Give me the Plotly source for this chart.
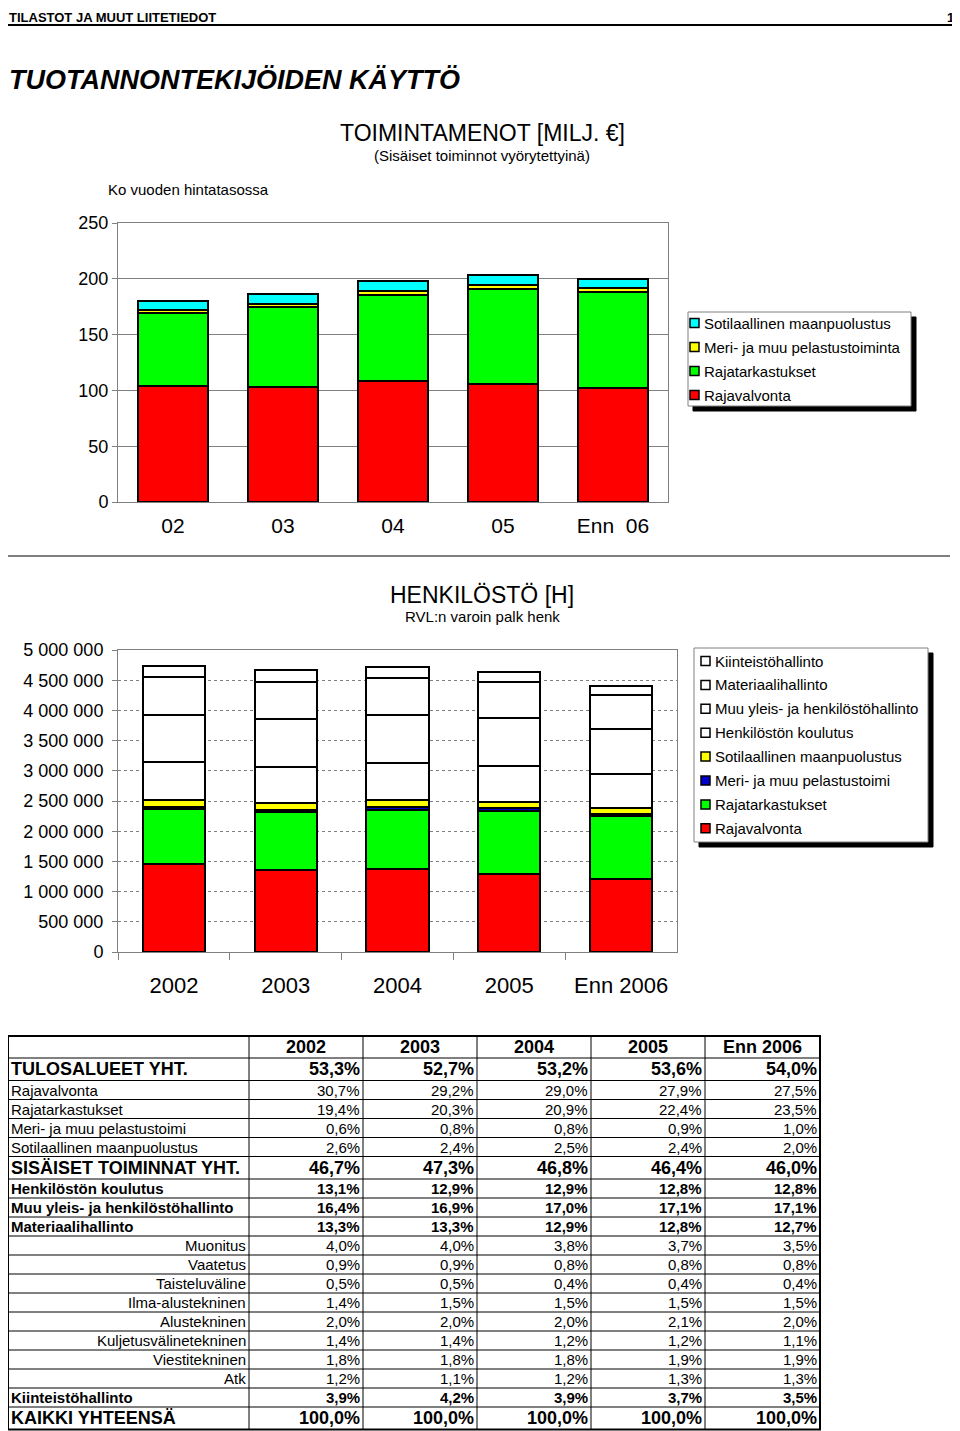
import plotly.graph_objects as go

# page is shown with the browser's default 8px body margin: the figure is sized so
# that its paper starts at page pixel (8, 8) and ends at (960, 1431)
OFF = 8
W, H = 960 - OFF, 1431 - OFF

# ---------------- data ----------------
# Chart 1: TOIMINTAMENOT [MILJ. EUR]
c1_cats = ["02", "03", "04", "05", "Enn  06"]
c1_rajavalvonta = [104, 103, 108, 106, 102.5]
c1_rajatarkastukset = [65.5, 71.5, 77.5, 84.5, 85.5]
c1_meri = [2.5, 3.0, 3.2, 3.8, 4.0]
c1_sotilaallinen = [8.5, 8.5, 9.3, 8.8, 7.5]
c1_ytick_vals = [0, 50, 100, 150, 200, 250]

# Chart 2: HENKILÖSTÖ [H]
c2_cats = ["2002", "2003", "2004", "2005", "Enn 2006"]
c2_rajavalvonta = [1454000, 1363000, 1370000, 1295000, 1211000]
c2_rajatarkastukset = [919000, 948000, 987000, 1040000, 1035000]
c2_meri = [28000, 37000, 38000, 42000, 44000]
c2_sotilaallinen = [123000, 112000, 118000, 111000, 88000]
c2_koulutus = [620000, 602000, 609000, 594000, 564000]
c2_muu_yleis = [777000, 789000, 803000, 794000, 753000]
c2_materiaali = [630000, 621000, 609000, 594000, 559000]
c2_kiinteisto = [185000, 196000, 184000, 172000, 154000]
c2_ytick_vals = [0, 500000, 1000000, 1500000, 2000000, 2500000, 3000000,
                 3500000, 4000000, 4500000, 5000000]
c2_ytick_text = ["0", "500 000", "1 000 000", "1 500 000", "2 000 000", "2 500 000",
                 "3 000 000", "3 500 000", "4 000 000", "4 500 000", "5 000 000"]

# Table
tbl_header = ["2002", "2003", "2004", "2005", "Enn 2006"]
tbl_labels = ["TULOSALUEET YHT.", "Rajavalvonta", "Rajatarkastukset",
              "Meri- ja muu pelastustoimi", "Sotilaallinen maanpuolustus",
              "SISÄISET TOIMINNAT YHT.", "Henkilöstön koulutus",
              "Muu yleis- ja henkilöstöhallinto", "Materiaalihallinto",
              "Muonitus", "Vaatetus", "Taisteluväline", "Ilma-alustekninen",
              "Alustekninen", "Kuljetusvälinetekninen", "Viestitekninen", "Atk",
              "Kiinteistöhallinto", "KAIKKI YHTEENSÄ"]
tbl_styles = ["big", "norm", "norm", "norm", "norm",
              "big", "bold", "bold", "bold",
              "sub", "sub", "sub", "sub", "sub", "sub", "sub", "sub",
              "bold", "big"]
tbl_values = [
    [53.3, 52.7, 53.2, 53.6, 54.0],
    [30.7, 29.2, 29.0, 27.9, 27.5],
    [19.4, 20.3, 20.9, 22.4, 23.5],
    [0.6, 0.8, 0.8, 0.9, 1.0],
    [2.6, 2.4, 2.5, 2.4, 2.0],
    [46.7, 47.3, 46.8, 46.4, 46.0],
    [13.1, 12.9, 12.9, 12.8, 12.8],
    [16.4, 16.9, 17.0, 17.1, 17.1],
    [13.3, 13.3, 12.9, 12.8, 12.7],
    [4.0, 4.0, 3.8, 3.7, 3.5],
    [0.9, 0.9, 0.8, 0.8, 0.8],
    [0.5, 0.5, 0.4, 0.4, 0.4],
    [1.4, 1.5, 1.5, 1.5, 1.5],
    [2.0, 2.0, 2.0, 2.1, 2.0],
    [1.4, 1.4, 1.2, 1.2, 1.1],
    [1.8, 1.8, 1.8, 1.9, 1.9],
    [1.2, 1.1, 1.2, 1.3, 1.3],
    [3.9, 4.2, 3.9, 3.7, 3.5],
    [100.0, 100.0, 100.0, 100.0, 100.0],
]

# ---------------- styling ----------------
ARIAL = "Liberation Sans, Arial, sans-serif"
RED, GREEN, YELLOW, CYAN, BLUE, WHITE = "#FF0000", "#00FF00", "#FFFF00", "#00FFFF", "#0000CC", "#FFFFFF"
GRAY = "#808080"


def px(x):
    return (x - OFF) / W


def py(y):
    return 1 - (y - OFF) / H


annotations = []
shapes = []


def text(x, y, s, size, xanchor="left", yanchor="middle", bold=False, italic=False):
    if bold:
        s = "<b>" + s + "</b>"
    if italic:
        s = "<i>" + s + "</i>"
    annotations.append(dict(x=px(x), y=py(y), xref="paper", yref="paper", text=s,
                            showarrow=False, xanchor=xanchor, yanchor=yanchor,
                            borderpad=0, font=dict(size=size, family=ARIAL, color="black")))


def rect(x0, y0, x1, y1, fill=None, lc="black", lw=1):
    shapes.append(dict(type="rect", xref="paper", yref="paper",
                       x0=px(x0), x1=px(x1), y0=py(y1), y1=py(y0),
                       fillcolor=fill if fill else "rgba(0,0,0,0)",
                       line=dict(color=lc, width=lw)))


def line(x0, y0, x1, y1, lc="black", lw=1):
    shapes.append(dict(type="line", xref="paper", yref="paper",
                       x0=px(x0), x1=px(x1), y0=py(y0), y1=py(y1),
                       line=dict(color=lc, width=lw)))


fig = go.Figure()

# ---------------- chart 1 ----------------
c1_series = [("Rajavalvonta", c1_rajavalvonta, RED),
             ("Rajatarkastukset", c1_rajatarkastukset, GREEN),
             ("Meri- ja muu pelastustoiminta", c1_meri, YELLOW),
             ("Sotilaallinen maanpuolustus", c1_sotilaallinen, CYAN)]
for name, vals, col in c1_series:
    fig.add_trace(go.Bar(x=c1_cats, y=vals, name=name, width=[0.63] * len(vals),
                         marker=dict(color=col, line=dict(color="black", width=2)),
                         xaxis="x", yaxis="y", showlegend=False))

# ---------------- chart 2 ----------------
c2_series = [("Rajavalvonta", c2_rajavalvonta, RED),
             ("Rajatarkastukset", c2_rajatarkastukset, GREEN),
             ("Meri- ja muu pelastustoimi", c2_meri, BLUE),
             ("Sotilaallinen maanpuolustus", c2_sotilaallinen, YELLOW),
             ("Henkilöstön koulutus", c2_koulutus, WHITE),
             ("Muu yleis- ja henkilöstöhallinto", c2_muu_yleis, WHITE),
             ("Materiaalihallinto", c2_materiaali, WHITE),
             ("Kiinteistöhallinto", c2_kiinteisto, WHITE)]
for name, vals, col in c2_series:
    fig.add_trace(go.Bar(x=c2_cats, y=vals, name=name, width=[0.555] * len(vals),
                         marker=dict(color=col, line=dict(color="black", width=2)),
                         xaxis="x2", yaxis="y2", showlegend=False))

fig.update_layout(
    width=W, height=H, margin=dict(l=0, r=0, t=0, b=0, pad=0, autoexpand=False),
    paper_bgcolor="white", plot_bgcolor="white", barmode="stack",
    font=dict(family=ARIAL, color="black"),
    xaxis=dict(domain=[px(118), px(668)], anchor="y", type="category",
               showline=True, mirror=True, linecolor=GRAY, linewidth=1,
               ticks="", showgrid=False, tickfont=dict(size=21, family=ARIAL),
               ticklabelstandoff=5, automargin=False),
    yaxis=dict(domain=[py(502), py(223)], anchor="x", range=[0, 250],
               tickvals=c1_ytick_vals, showline=True, mirror=True, linecolor=GRAY,
               linewidth=1, ticks="outside", ticklen=5, tickcolor=GRAY,
               showgrid=True, gridcolor=GRAY, gridwidth=1, zeroline=False,
               tickfont=dict(size=18, family=ARIAL), automargin=False),
    xaxis2=dict(domain=[px(118), px(677)], anchor="y2", type="category",
                showline=True, mirror=True, linecolor=GRAY, linewidth=1,
                ticks="outside", tickson="boundaries", ticklen=7, tickcolor=GRAY,
                showgrid=False, tickfont=dict(size=22, family=ARIAL),
                ticklabelstandoff=14, automargin=False),
    yaxis2=dict(domain=[py(952), py(650)], anchor="x2", range=[0, 5000000],
                tickvals=c2_ytick_vals, ticktext=c2_ytick_text,
                showline=True, mirror=True, linecolor=GRAY, linewidth=1,
                ticks="outside", ticklen=5, tickcolor=GRAY,
                showgrid=True, gridcolor=GRAY, gridwidth=1, griddash="dot",
                zeroline=False, tickfont=dict(size=18, family=ARIAL),
                ticklabelstandoff=5, automargin=False),
)

# ---------------- page header & titles ----------------
text(8, 8.5, "TILASTOT JA MUUT LIITETIEDOT", 13, yanchor="top", bold=True)
text(955, 8.5, "1", 13, xanchor="right", yanchor="top", bold=True)
line(8, 25, 960, 25, lw=2)
text(8, 80, "TUOTANNONTEKIJÖIDEN KÄYTTÖ", 27, bold=True, italic=True)

text(482, 133, "TOIMINTAMENOT [MILJ. €]", 23, xanchor="center")
text(482, 155, "(Sisäiset toiminnot vyörytettyinä)", 15, xanchor="center")
text(107, 190, "Ko vuoden hintatasossa", 15)

line(8, 556, 950, 556, lw=1)

text(482, 595, "HENKILÖSTÖ [H]", 23, xanchor="center")
text(482, 617, "RVL:n varoin palk henk", 15, xanchor="center")

# ---------------- legend 1 ----------------
rect(693, 317, 916, 411, fill="black", lc="black")
rect(688, 312, 911, 406, fill="white", lc=GRAY)
leg1 = [("Sotilaallinen maanpuolustus", CYAN), ("Meri- ja muu pelastustoiminta", YELLOW),
        ("Rajatarkastukset", GREEN), ("Rajavalvonta", RED)]
for i, (name, col) in enumerate(leg1):
    yc = 323 + 24 * i
    rect(690, yc - 4.5, 699, yc + 4.5, fill=col, lc="black", lw=1.5)
    text(703, yc, name, 15)

# ---------------- legend 2 ----------------
rect(699, 653, 933, 847, fill="black", lc="black")
rect(694, 648, 928, 842, fill="white", lc=GRAY)
leg2 = [("Kiinteistöhallinto", WHITE), ("Materiaalihallinto", WHITE),
        ("Muu yleis- ja henkilöstöhallinto", WHITE), ("Henkilöstön koulutus", WHITE),
        ("Sotilaallinen maanpuolustus", YELLOW), ("Meri- ja muu pelastustoimi", BLUE),
        ("Rajatarkastukset", GREEN), ("Rajavalvonta", RED)]
for i, (name, col) in enumerate(leg2):
    yc = 661 + 23.9 * i
    rect(701, yc - 4.5, 710, yc + 4.5, fill=col, lc="black", lw=1.5)
    text(714, yc, name, 15)

# ---------------- table ----------------
col_edges = [8, 249, 363, 477, 591, 705, 820]
row_h = {"hdr": 22, "big": 22.5, "norm": 19, "bold": 19, "sub": 19}
y_top = 1036
edges = [y_top, y_top + row_h["hdr"]]
for st in tbl_styles:
    edges.append(edges[-1] + row_h[st])

yc = (edges[0] + edges[1]) / 2
for j, h in enumerate(tbl_header):
    text((col_edges[j + 1] + col_edges[j + 2]) / 2, yc, h, 18, xanchor="center", bold=True)

for i, (lab, st, vals) in enumerate(zip(tbl_labels, tbl_styles, tbl_values)):
    y0, y1 = edges[i + 1], edges[i + 2]
    yc = (y0 + y1) / 2
    if st == "big":
        fs, b = 18, True
    elif st == "bold":
        fs, b = 15, True
    else:
        fs, b = 15, False
    if st == "sub":
        text(col_edges[1] - 2, yc, lab, fs, xanchor="right", bold=b)
    else:
        text(col_edges[0] + 2, yc, lab, fs, bold=b)
    for j, v in enumerate(vals):
        s = ("%.1f%%" % v).replace(".", ",")
        text(col_edges[j + 2] - 2, yc, s, fs, xanchor="right", bold=b)

for e in edges[1:-1]:
    line(col_edges[0], e, col_edges[-1], e, lw=1)
for c in col_edges[1:-1]:
    line(c, edges[0], c, edges[-1], lw=1)
rect(col_edges[0], edges[0], col_edges[-1], edges[-1], lc="black", lw=2)

fig.update_layout(annotations=annotations, shapes=shapes)
fig.write_html("out.html")
